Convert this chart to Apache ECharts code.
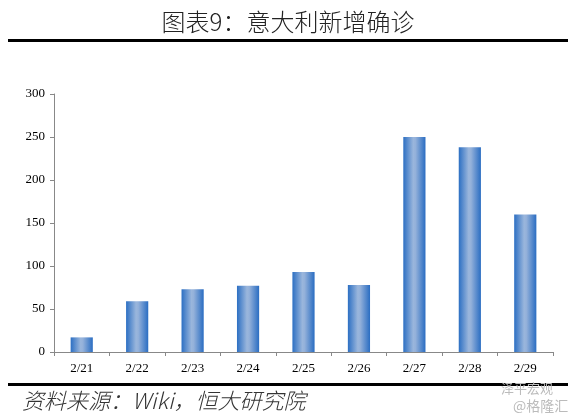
<!DOCTYPE html>
<html><head><meta charset="utf-8">
<script src="https://cdn.jsdelivr.net/npm/echarts@6/dist/echarts.min.js"></script>
<style>html,body{margin:0;padding:0;background:#fff}#c{width:576px;height:419px}</style>
</head><body><div id="c"></div>
<script>
var categories = ['2/21','2/22','2/23','2/24','2/25','2/26','2/27','2/28','2/29'];
var newCases = [17, 59, 73, 77, 93, 78, 250, 238, 160];
var yTicks = [0, 50, 100, 150, 200, 250, 300];
var titleText = '图表9：意大利新增确诊';
var sourceText = '资料来源：Wiki，恒大研究院';

var chart = echarts.init(document.getElementById('c'));
var serif = '"Liberation Serif", "Times New Roman", serif';
var cjk = '"Noto Sans CJK SC", sans-serif';
chart.setOption({
  animation: false,
  grid: {left: 54, right: 23, top: 94, bottom: 67},
  xAxis: {
    type: 'category', data: categories,
    axisLine: {lineStyle: {color: '#888', width: 1}},
    axisTick: {show: true, lineStyle: {color: '#888'}, length: 4},
    axisLabel: {color: '#000', fontFamily: serif, fontSize: 13, margin: 10}
  },
  yAxis: {
    type: 'value', min: yTicks[0], max: yTicks[yTicks.length-1], interval: 50,
    axisLine: {show: true, lineStyle: {color: '#888'}},
    axisTick: {show: true, lineStyle: {color: '#888'}, length: 4},
    splitLine: {show: false},
    axisLabel: {color: '#000', fontFamily: serif, fontSize: 13, margin: 9}
  },
  series: [{
    type: 'bar', data: newCases, barWidth: '40%',
    itemStyle: {
      color: new echarts.graphic.LinearGradient(0, 0, 1, 0, [
        {offset: 0, color: '#2c6fc3'},
        {offset: 0.45, color: '#9ab6dc'},
        {offset: 0.55, color: '#94b1da'},
        {offset: 1, color: '#2a6dc2'}
      ])
    }
  }],
  graphic: [
    {type: 'text', left: 'center', top: 10, style: {text: titleText, font: '300 24px ' + cjk, fill: '#222'}},
    {type: 'rect', shape: {x: 8, y: 39, width: 560, height: 3}, style: {fill: '#000'}},
    {type: 'rect', shape: {x: 8, y: 383, width: 560, height: 3}, style: {fill: '#000'}},
    {type: 'text', left: 22, top: 390, style: {text: sourceText, font: 'italic 300 22px ' + cjk, fill: '#333'}},
    {type: 'text', left: 501, top: 382, style: {text: '泽平宏观', font: '13px ' + cjk, fill: '#bbb'}},
    {type: 'text', left: 513, top: 399, style: {text: '@格隆汇', font: '14px ' + cjk, fill: '#bbb'}}
  ]
});
</script></body></html>
